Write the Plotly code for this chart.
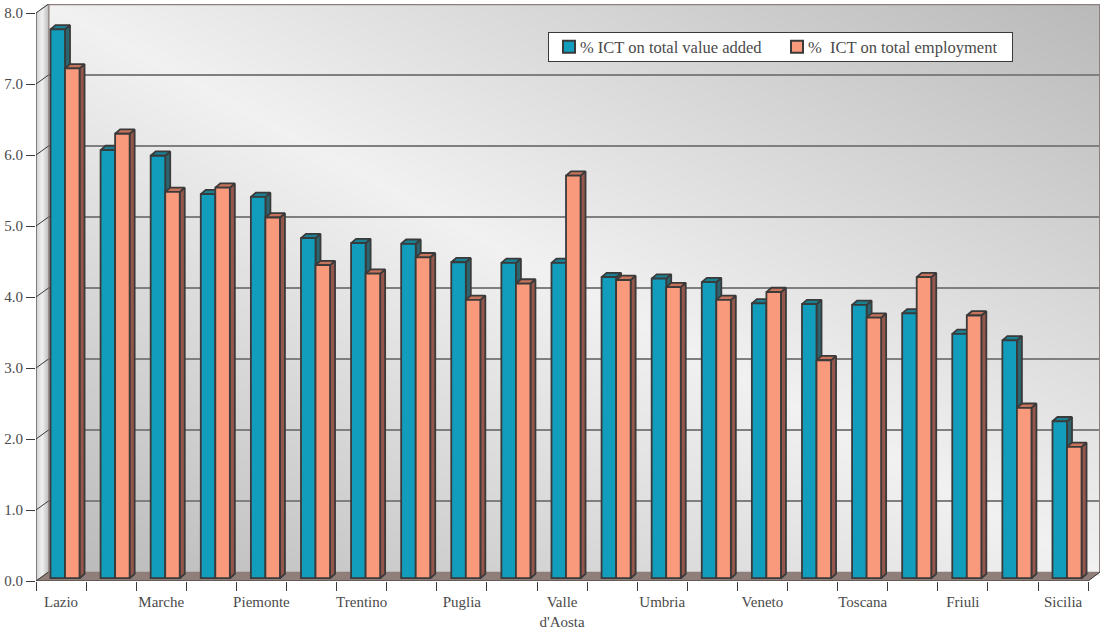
import numpy as np
import plotly.graph_objects as go

# ---- data ----
region_labels = ["Lazio", "", "Marche", "", "Piemonte", "", "Trentino", "", "Puglia", "",
                 "Valle<br>d'Aosta", "", "Umbria", "", "Veneto", "", "Toscana", "", "Friuli", "", "Sicilia"]
ict_value_added = [7.73, 6.03, 5.95, 5.41, 5.37, 4.79, 4.72, 4.71, 4.45, 4.44, 4.44,
                   4.24, 4.22, 4.17, 3.87, 3.86, 3.85, 3.73, 3.44, 3.35, 2.21]
ict_employment = [7.18, 6.26, 5.44, 5.50, 5.08, 4.41, 4.29, 4.52, 3.92, 4.15, 5.67,
                  4.20, 4.10, 3.92, 4.03, 3.07, 3.67, 4.24, 3.70, 2.40, 1.85]
y_ticks = [0, 1, 2, 3, 4, 5, 6, 7, 8]
name_a = "% ICT on total value added"
name_b = "%\u00a0 ICT on total employment"

# ---- geometry (pixel size of the pseudo-3D look converted to axis units) ----
W, H = 1101, 629
L, R, T, B = 36, 1100, 4, 581
SLOT_PX, UNIT_PX = 50.1, 71.0
n = len(region_labels)
x_max = (R - L) / SLOT_PX
y_max = (B - T) / UNIT_PX
wall_dx, wall_dy = 12.5 / SLOT_PX, 9.0 / UNIT_PX
bar_dx, bar_dy = 5.0 / SLOT_PX, 4.3 / UNIT_PX
bar_base = 2.8 / UNIT_PX
bar_w = 0.29
slot_left = 0.289
idx = np.arange(n)
x_a = idx + slot_left + bar_w / 2
x_b = idx + slot_left + bar_w * 1.5

INK = "#3a3a3a"
TXT = "#4a4a4a"
FONT = "Liberation Serif"

fig = go.Figure()

# back wall gradient
gx = np.linspace(wall_dx, x_max, 81)
gy = np.linspace(wall_dy, y_max, 81)
U, V = np.meshgrid((gx - gx[0]) / (gx[-1] - gx[0]), 1 - (gy - gy[0]) / (gy[-1] - gy[0]))
fig.add_trace(go.Heatmap(x=gx, y=gy, z=241 - 56 * np.abs(U - V), zmin=0, zmax=255, zsmooth="best",
                         colorscale=[[0, "#000000"], [1, "#ffffff"]], showscale=False,
                         hoverinfo="skip"))

# gridlines on the back wall
gxs, gys = [], []
for t in y_ticks[1:-1]:
    gxs += [wall_dx, x_max, None]
    gys += [t + wall_dy, t + wall_dy, None]
fig.add_trace(go.Scatter(x=gxs, y=gys, mode="lines", line=dict(color="#7f7f7f", width=2),
                         showlegend=False, hoverinfo="skip"))
# wall frame
fig.add_trace(go.Scatter(x=[wall_dx, wall_dx, x_max, x_max], y=[wall_dy, y_max - 0.005, y_max - 0.005, wall_dy],
                         mode="lines", line=dict(color="#8c7f7c", width=2),
                         showlegend=False, hoverinfo="skip"))
# left wall
fig.add_trace(go.Scatter(x=[0, wall_dx, wall_dx, 0, 0], y=[0, wall_dy, 8 + wall_dy, 8, 0],
                         mode="lines", fill="toself", line=dict(color="#8c7f7c", width=0.5),
                         fillgradient=dict(type="horizontal",
                                           colorscale=[[0, "#d0d0d0"], [0.5, "#f0f0f0"], [1, "#bdbdbd"]]),
                         showlegend=False, hoverinfo="skip"))
# floor
fig.add_trace(go.Scatter(x=[0, wall_dx, x_max, n, 0], y=[0, wall_dy, wall_dy, 0, 0],
                         mode="lines", fill="toself", fillcolor="#8f7e7a", line=dict(color="#8f7e7a", width=0.5),
                         showlegend=False, hoverinfo="skip"))
# axes frame with the diagonal returns at the wall
axx, axy = [0, 0, None, 0, n, x_max, None], [8, 0, None, 0, 0, wall_dy, None]
for t in y_ticks:
    axx += [0, wall_dx, None]
    axy += [t, t + wall_dy, None]
fig.add_trace(go.Scatter(x=axx, y=axy, mode="lines", line=dict(color=INK, width=1),
                         showlegend=False, hoverinfo="skip"))


def faces(xc, vals):
    sx, sy, tx, ty = [], [], [], []
    for c, v in zip(xc, vals):
        xl, xr = c - bar_w / 2, c + bar_w / 2
        top = bar_base + v
        sx += [xr, xr + bar_dx, xr + bar_dx, xr, xr, None]
        sy += [bar_base, bar_base + bar_dy, top + bar_dy, top, bar_base, None]
        tx += [xl, xl + bar_dx, xr + bar_dx, xr, xl, None]
        ty += [top, top + bar_dy, top + bar_dy, top, top, None]
    return sx, sy, tx, ty


def add_series(xc, vals, name, front, side, topc, z):
    sx, sy, tx, ty = faces(xc, vals)
    for px, py, col in ((sx, sy, side), (tx, ty, topc)):
        fig.add_trace(go.Scatter(x=px, y=py, mode="lines", fill="toself", fillcolor=col,
                                 line=dict(color=INK, width=1.8), showlegend=False,
                                 hoverinfo="skip", zorder=z))
    fig.add_trace(go.Bar(x=xc, y=vals, base=bar_base, width=bar_w, name=name,
                         marker=dict(color=front, line=dict(color=INK, width=1.8)),
                         zorder=z + 1))


add_series(x_a, ict_value_added, name_a, "#129dbc", "#2b6670", "#1c8093", 1)
add_series(x_b, ict_employment, name_b, "#f99a7c", "#95564b", "#c8735c", 3)

fig.update_layout(
    width=W, height=H, autosize=False,
    margin=dict(l=L, r=W - R, t=T, b=H - B, pad=0),
    paper_bgcolor="white", plot_bgcolor="white",
    barmode="overlay",
    font=dict(family=FONT, size=15, color=TXT),
    showlegend=True,
    legend=dict(orientation="h", x=(548 - L) / (R - L), y=(B - 32) / (B - T), xanchor="left", yanchor="top",
                bgcolor="white", bordercolor=INK, borderwidth=1, traceorder="normal",
                font=dict(family=FONT, size=16.5, color=TXT), itemsizing="constant",
                entrywidth=183, entrywidthmode="pixels", itemclick=False, itemdoubleclick=False),
    xaxis=dict(range=[0, x_max], showgrid=False, zeroline=False, showline=False, automargin=False,
               tickmode="array",
               tickvals=[i + 0.5 for i, s in enumerate(region_labels) if s],
               ticktext=[s for s in region_labels if s],
               ticks="outside", ticklen=7, tickcolor="rgba(0,0,0,0)", tickwidth=1,
               tickangle=0,
               minor=dict(tickmode="array", tickvals=list(range(n + 1)), ticks="outside",
                          ticklen=9, tickcolor=INK, tickwidth=1, showgrid=False)),
    yaxis=dict(range=[0, y_max], showgrid=False, zeroline=False, showline=False, automargin=False,
               tickmode="array", tickvals=y_ticks, tickformat=".1f",
               ticks="outside", ticklen=9, tickcolor=INK, tickwidth=1),
)

# tighten the legend box to the reference's proportions once it has been laid out
post = """
document.body.style.margin='0';
document.querySelectorAll('.legendtext').forEach(function(t){
  t.setAttribute('x', +t.getAttribute('x') - 9);
});
document.querySelectorAll('.legend .bg').forEach(function(b){
  b.setAttribute('height', 29); b.setAttribute('width', 464);
});
document.querySelectorAll('.legend .scrollbox').forEach(function(s){
  s.setAttribute('transform', 'translate(0,-3.5)');
  s.removeAttribute('clip-path');
});
"""
fig.write_html("out.html", config={"displayModeBar": False}, post_script=post)
